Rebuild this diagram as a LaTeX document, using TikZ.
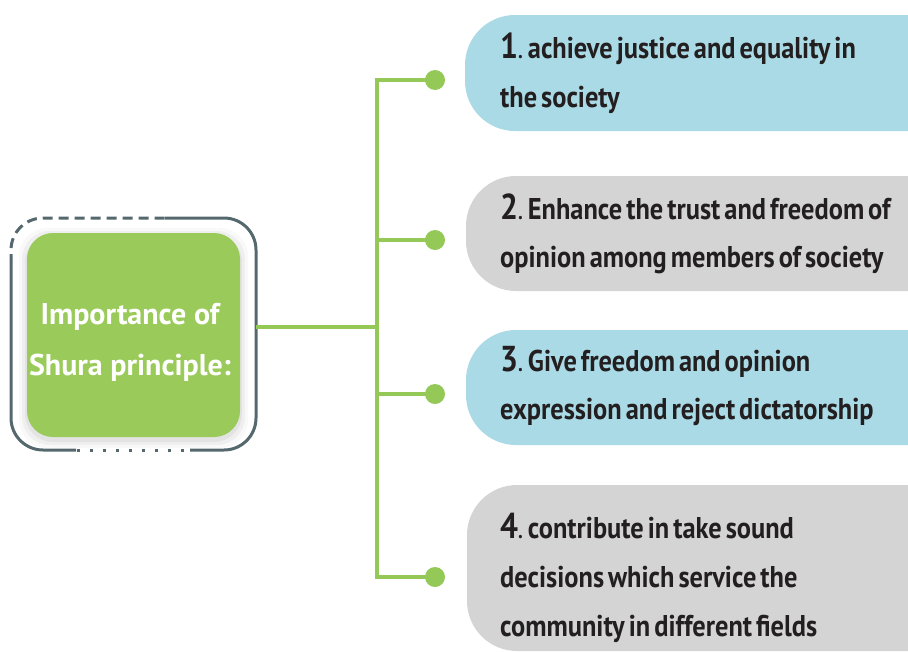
\documentclass[tikz,border=0pt]{standalone}
\usepackage{fontspec}
\setmainfont{PT Sans}[FakeStretch=0.88, WordSpace=0.6]
\newfontfamily\corefont{PT Sans}
\definecolor{leaf}{RGB}{154,203,90}
\definecolor{branch}{RGB}{148,201,88}
\definecolor{slate}{RGB}{84,104,110}
\definecolor{skyfill}{RGB}{170,218,229}
\definecolor{greyfill}{RGB}{212,212,212}
\definecolor{ink}{RGB}{35,31,32}
\newcommand\bignum[1]{{\fontsize{36}{36}\selectfont #1}{\fontsize{22}{22}\selectfont.}\,}
\tikzset{
  itemtxt/.style={anchor=base west, inner sep=0pt, text=ink, font=\fontsize{30}{30}\selectfont\bfseries},
  centertxt/.style={anchor=base, inner sep=0pt, text=white, font=\corefont\fontsize{30}{30}\selectfont\bfseries},
  dot/.style={circle, fill=branch, minimum size=20pt, inner sep=0pt},
  link/.style={draw=branch, line width=4pt},
  rim/.style={draw=slate, line width=3pt, rounded corners=32pt},
}
\begin{document}
\begin{tikzpicture}[x=1pt, y=-1pt]
\useasboundingbox (0,0) rectangle (908,651);
% item boxes
\fill[skyfill, rounded corners=50pt] (908,15) -- (465,15) -- (465,131) -- (908,131);
\fill[greyfill, rounded corners=50pt] (908,176) -- (466,176) -- (466,291) -- (908,291);
\fill[skyfill, rounded corners=50pt] (908,330) -- (466,330) -- (466,445) -- (908,445);
\fill[greyfill, rounded corners=50pt] (908,485) -- (467,485) -- (467,651) -- (908,651);
% shadow of centre box
\foreach \s/\o in {8/0.025,5/0.04,2/0.05}{
  \fill[black, opacity=\o, rounded corners=28pt] (27-\s,233-\s+3) rectangle (240+\s,437+\s+3);
}
% centre box
\node[fill=leaf, rounded corners=26pt, minimum width=213pt, minimum height=204pt, inner sep=0pt] (core) at (133.5,335) {};
\node[minimum width=245pt, minimum height=232pt, inner sep=0pt] (outer) at (133.5,334) {};
% outer rim
\draw[rim, dash pattern=on 10pt off 6pt, dash phase=4pt] (11,260) -- (11,218) -- (165,218);
\draw[rim] (165,218) -- (256,218) -- (256,450) -- (190,450);
\draw[rim] (76,450) -- (11,450) -- (11,260);
\draw[draw=slate, line width=3pt, dash pattern=on 3pt off 10pt] (77,450) -- (190,450);
\node[centertxt] (t1) at (130,324) {Importance of};
\node[centertxt] (t2) at (130,375) {Shura principle:};
% connectors
\coordinate (hub) at (377,327);
\node[dot] (d1) at (435,80) {};
\node[dot] (d2) at (435,240) {};
\node[dot] (d3) at (435,394) {};
\node[dot] (d4) at (435,577) {};
\draw[link] (outer.east |- hub) -- (hub);
\draw[link] (hub) |- (d1.center);
\draw[link] (hub) |- (d4.center);
\draw[link] (hub) |- (d2.center);
\draw[link] (hub) |- (d3.center);
% texts
\node[itemtxt] (a1) at (500,58) {\bignum{1}achieve justice and equality in};
\node[itemtxt] (a2) at (500,107) {the society};
\node[itemtxt] (b1) at (500,219) {\bignum{2}Enhance the trust and freedom of};
\node[itemtxt] (b2) at (500,267) {opinion among members of society};
\node[itemtxt] (c1) at (500,371) {\bignum{3}Give freedom and opinion};
\node[itemtxt] (c2) at (500,419) {expression and reject dictatorship};
\node[itemtxt] (e1) at (500,538) {\bignum{4}contribute in take sound};
\node[itemtxt] (e2) at (500,587) {decisions which service the};
\node[itemtxt] (e3) at (500,636) {community in different fields};
\end{tikzpicture}
\end{document}
